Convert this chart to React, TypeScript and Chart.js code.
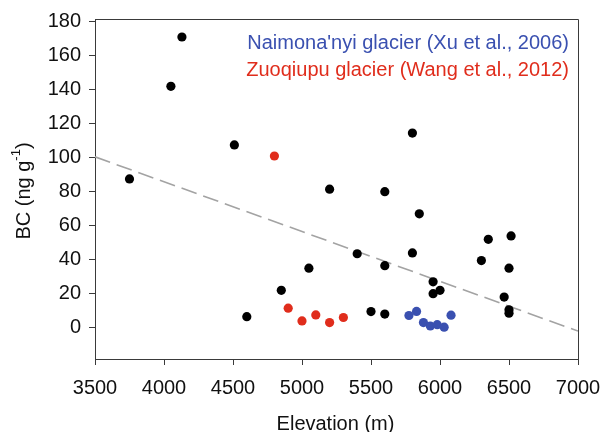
import React, { useEffect, useRef } from "react";
import { Chart, registerables } from "chart.js";

Chart.register(...registerables);

// ---- data ----
const blackX = [3750, 4050, 4130, 4510, 4600, 4850, 5050, 5200, 5400, 5500, 5600, 5600, 5600, 5800, 5800, 5850, 5950, 5950, 6000, 6300, 6350, 6465, 6500, 6500, 6500, 6515];
const blackY = [87.5, 142, 171, 107.5, 6.5, 22, 35, 81.5, 43.5, 9.5, 80, 36.5, 8, 114.5, 44, 67, 27, 20, 22, 39.5, 52, 18, 35, 10.5, 8.5, 54];

const redX = [4800, 4900, 5000, 5100, 5200, 5300];
const redY = [101, 11.5, 4, 7.5, 3, 6];

const blueX = [5775, 5830, 5880, 5930, 5980, 6030, 6080];
const blueY = [7.2, 9.6, 3, 1, 1.8, 0.3, 7.4];

const trendX = [3500, 7000];
const trendY = [100.5, -2];

const xTicks = [3500, 4000, 4500, 5000, 5500, 6000, 6500, 7000];
const yTicks = [0, 20, 40, 60, 80, 100, 120, 140, 160, 180];

const xAxisTitle = "Elevation (m)";
const yTitleMain = "BC (ng g";
const yTitleSup = "-1";
const yTitleEnd = ")";
const legendLabels = ["Naimona'nyi glacier (Xu et al., 2006)", "Zuoqiupu glacier (Wang et al., 2012)"];

// ---- styles ----
const FONT = "'Liberation Sans', Arial, sans-serif";
const AXIS = "#3a3a3a";
const TEXT = "#111111";
const BLUE = "#3a50b0";
const RED = "#e02d1c";

const toPts = (xs: number[], ys: number[]) => xs.map((x, i) => ({ x, y: ys[i] }));

const overlay = {
  id: "overlay",
  afterDraw(chart: any) {
    const { ctx, chartArea: a } = chart;
    ctx.save();
    // frame top + right
    ctx.strokeStyle = AXIS;
    ctx.lineWidth = 1;
    ctx.beginPath();
    ctx.moveTo(Math.round(a.left), Math.round(a.top) + 0.5);
    ctx.lineTo(Math.round(a.right) + 0.5, Math.round(a.top) + 0.5);
    ctx.lineTo(Math.round(a.right) + 0.5, Math.round(a.bottom));
    ctx.stroke();

    // legend texts
    ctx.font = `20px ${FONT}`;
    ctx.textAlign = "right";
    ctx.textBaseline = "alphabetic";
    ctx.fillStyle = BLUE;
    ctx.fillText(legendLabels[0], 569, 48.5);
    ctx.fillStyle = RED;
    ctx.fillText(legendLabels[1], 569, 76);

    // x title
    ctx.fillStyle = TEXT;
    ctx.textAlign = "center";
    ctx.textBaseline = "alphabetic";
    ctx.fillText(xAxisTitle, 335.5, 430);

    // y title with superscript
    ctx.translate(29.5, 191);
    ctx.rotate(-Math.PI / 2);
    ctx.textAlign = "left";
    ctx.font = `20px ${FONT}`;
    const w1 = ctx.measureText(yTitleMain).width;
    const w3 = ctx.measureText(yTitleEnd).width;
    ctx.font = `13px ${FONT}`;
    const w2 = ctx.measureText(yTitleSup).width;
    const total = w1 + w2 + w3;
    let x0 = -total / 2;
    ctx.font = `20px ${FONT}`;
    ctx.fillText(yTitleMain, x0, 0);
    ctx.font = `13px ${FONT}`;
    ctx.fillText(yTitleSup, x0 + w1, -10);
    ctx.font = `20px ${FONT}`;
    ctx.fillText(yTitleEnd, x0 + w1 + w2, 0);
    ctx.restore();
  },
};

export default function App() {
  const ref = useRef<HTMLCanvasElement | null>(null);

  useEffect(() => {
    if (!ref.current) return;
    const chart = new Chart(ref.current, {
      type: "scatter",
      data: {
        datasets: [
          {
            label: "trend",
            data: toPts(trendX, trendY),
            showLine: true,
            borderColor: "#a3a3a3",
            borderWidth: 1.6,
            borderDash: [16, 7],
            pointRadius: 0,
            order: 10,
          },
          {
            label: "all",
            data: toPts(blackX, blackY),
            backgroundColor: "#000000",
            borderColor: "#000000",
            pointRadius: 4.6,
            borderWidth: 0,
            order: 1,
          },
          {
            label: "Zuoqiupu",
            data: toPts(redX, redY),
            backgroundColor: RED,
            borderColor: RED,
            pointRadius: 4.6,
            borderWidth: 0,
            order: 1,
          },
          {
            label: "Naimona'nyi",
            data: toPts(blueX, blueY),
            backgroundColor: BLUE,
            borderColor: BLUE,
            pointRadius: 4.6,
            borderWidth: 0,
            order: 1,
          },
        ],
      },
      options: {
        animation: false,
        responsive: false,
        layout: { padding: { left: 0, top: 19, right: 25, bottom: 0 } },
        plugins: { legend: { display: false }, tooltip: { enabled: false } },
        scales: {
          x: {
            type: "linear",
            min: 3500,
            max: 7000,
            afterBuildTicks: (s: any) => {
              s.ticks = xTicks.map((v) => ({ value: v }));
            },
            afterFit: (s: any) => {
              s.height = 73;
              s.paddingLeft = 0;
              s.paddingRight = 0;
            },
            grid: { display: true, drawOnChartArea: false, drawTicks: true, tickLength: 6, color: AXIS },
            border: { display: true, color: AXIS, width: 1 },
            ticks: {
              font: { family: FONT, size: 20 },
              color: TEXT,
              padding: 11,
              maxRotation: 0,
              autoSkip: false,
              callback: (v: any) => String(v),
            },
          },
          y: {
            type: "linear",
            min: -18.4,
            max: 181.6,
            afterBuildTicks: (s: any) => {
              s.ticks = yTicks.map((v) => ({ value: v }));
            },
            afterFit: (s: any) => {
              s.width = 95;
              s.paddingTop = 0;
              s.paddingBottom = 0;
            },
            grid: { display: true, drawOnChartArea: false, drawTicks: true, tickLength: 6, color: AXIS },
            border: { display: true, color: AXIS, width: 1 },
            ticks: {
              font: { family: FONT, size: 20 },
              color: TEXT,
              padding: 8,
              autoSkip: false,
              callback: (v: any) => String(v),
            },
          },
        },
      },
      plugins: [overlay],
    });
    return () => chart.destroy();
  }, []);

  return (
    <div style={{ position: "fixed", left: 0, top: 0, width: 603, height: 432, background: "#ffffff" }}>
      <canvas ref={ref} width={603} height={432} style={{ display: "block" }} />
    </div>
  );
}
